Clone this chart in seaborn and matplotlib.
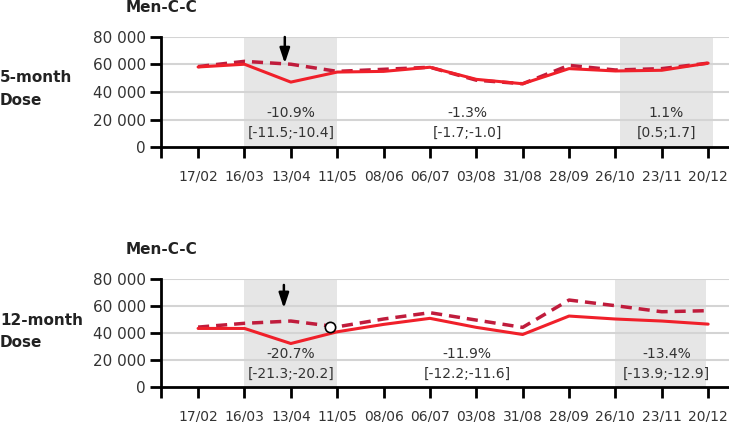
import numpy as np
import pandas as pd
import seaborn as sns
import matplotlib.pyplot as plt

# x categories (4-week steps)
dates = ['17/02', '16/03', '13/04', '11/05', '08/06', '06/07',
         '03/08', '31/08', '28/09', '26/10', '23/11', '20/12']

# 5-month dose: observed (solid) and expected (dashed)
obs_5m = [58200, 60200, 47200, 54500, 55000, 58000,
          49200, 46000, 57000, 55300, 55800, 61000]
exp_5m = [58500, 62300, 60200, 55000, 56500, 58000,
          48600, 46000, 59400, 56000, 57000, 61000]

# 12-month dose
obs_12m = [43500, 43500, 32300, 41000, 46500, 51000,
           44300, 39000, 52700, 50500, 49000, 46700]
exp_12m = [44500, 47300, 49000, 44700, 50500, 55200,
           49700, 44300, 64600, 60400, 55900, 56700]

# shaded periods and their labels
shade_5m = [(1, 3), (9.1, 11.1)]
shade_12m = [(1, 3), (9.0, 10.95)]
label_x = [2, 5.8, 10.1]
labels_5m = [('-10.9%', '[-11.5;-10.4]'), ('-1.3%', '[-1.7;-1.0]'), ('1.1%', '[0.5;1.7]')]
labels_12m = [('-20.7%', '[-21.3;-20.2]'), ('-11.9%', '[-12.2;-11.6]'), ('-13.4%', '[-13.9;-12.9]')]

sns.set_style('white')
plt.rcParams['font.family'] = ['DejaVu Sans']

RED = '#f0202a'
DARKRED = '#c01c3c'
TXT = '#333333'

fig = plt.figure(figsize=(7.29, 4.22), dpi=100)
ax1 = fig.add_axes([161 / 729, 1 - 147 / 422, 1 - 161 / 729, 110 / 422])
ax2 = fig.add_axes([161 / 729, 1 - 387 / 422, 1 - 161 / 729, 107.7 / 422])


def draw_panel(ax, obs, exp, shades, labels, arrow, text_y):
    df = pd.DataFrame({'x': np.arange(len(dates)), 'obs': obs, 'exp': exp})
    for a, b in shades:
        ax.axvspan(a, b, color='#e6e6e6', lw=0, zorder=0)
    for yv in range(20000, 80001, 20000):
        ax.axhline(yv, color='#d4d4d4', lw=1.5, zorder=1)
    sns.lineplot(data=df, x='x', y='exp', ax=ax, color=DARKRED, lw=2.5, zorder=3)
    ax.lines[-1].set_dashes([3.2, 2.0])
    sns.lineplot(data=df, x='x', y='obs', ax=ax, color=RED, lw=2.2, zorder=4)
    ax.annotate('', xy=(arrow[0], arrow[2]), xytext=(arrow[0], arrow[1]),
                arrowprops=dict(arrowstyle='-|>,head_width=0.3,head_length=0.9',
                                color='black', lw=1.8, shrinkA=0, shrinkB=0), zorder=5)
    for xx, (pct, ci) in zip(label_x, labels):
        ax.text(xx, text_y[0], pct, ha='center', va='center', fontsize=10, color=TXT, zorder=5)
        ax.text(xx, text_y[1], ci, ha='center', va='center', fontsize=10, color=TXT, zorder=5)
    ax.set_xlim(-0.8, 11.45)
    ax.set_ylim(0, 80000)
    ax.set_xticks(range(len(dates)))
    ax.set_xticklabels(dates, fontsize=10, color=TXT)
    ax.set_xticks([-0.8], minor=True)
    ax.set_yticks(range(0, 80001, 20000))
    ax.set_yticklabels(['0', '20 000', '40 000', '60 000', '80 000'], fontsize=11, color=TXT)
    ax.tick_params(axis='both', which='both', length=8, width=2, color='black',
                   bottom=True, left=True, pad=3)
    ax.tick_params(axis='x', pad=8)
    ax.set_xlabel('')
    ax.set_ylabel('')
    for s in ['top', 'right']:
        ax.spines[s].set_visible(False)
    for s in ['left', 'bottom']:
        ax.spines[s].set_linewidth(2)
        ax.spines[s].set_color('black')
    ax.patch.set_alpha(0)


draw_panel(ax1, obs_5m, exp_5m, shade_5m, labels_5m, (1.87, 80000, 60800), (24500, 10500))
draw_panel(ax2, obs_12m, exp_12m, shade_12m, labels_12m, (1.85, 75800, 58500), (24500, 9800))

# open circle on the 12-month expected line
ax2.scatter([2.84], [44700], s=55, facecolor='white', edgecolor='black', lw=1.2, zorder=6)

fig.text(161.5 / 729, 1 - 8 / 422, 'Men-C-C', ha='center', va='center',
         fontsize=11, fontweight='bold', color='#222222')
fig.text(161.5 / 729, 1 - 250 / 422, 'Men-C-C', ha='center', va='center',
         fontsize=11, fontweight='bold', color='#222222')
fig.text(0.0, 1 - 89 / 422, '5-month\nDose', ha='left', va='center',
         fontsize=11, fontweight='bold', color='#222222', linespacing=1.6)
fig.text(0.0, 1 - 331.5 / 422, '12-month\nDose', ha='left', va='center',
         fontsize=11, fontweight='bold', color='#222222', linespacing=1.6)

fig.savefig('out.png', dpi=100)
